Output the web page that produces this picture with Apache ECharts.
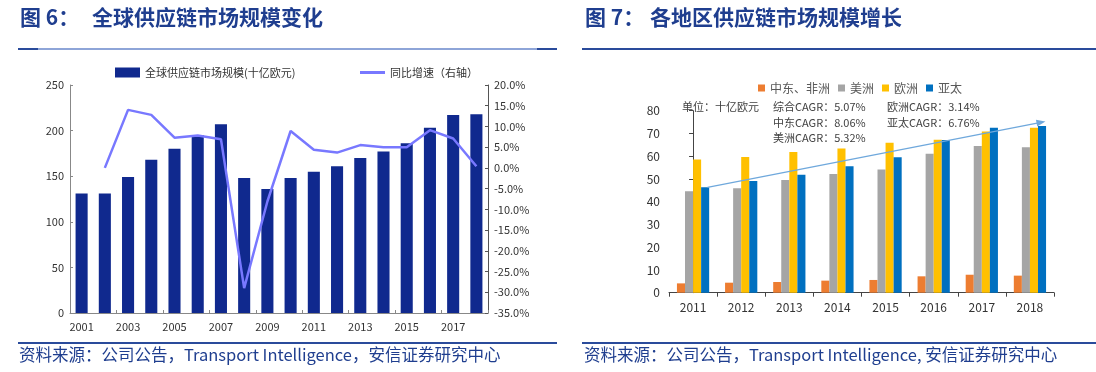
<!DOCTYPE html>
<html><head><meta charset="utf-8">
<script src="https://cdn.jsdelivr.net/npm/echarts@6/dist/echarts.min.js"></script>
<style>html,body{margin:0;padding:0;background:#fff}#c{width:1096px;height:372px}</style>
</head><body><div id="c"></div>
<script>
// ---- Figure 6 data ----
const years6 = ['2001','2002','2003','2004','2005','2006','2007','2008','2009','2010','2011','2012','2013','2014','2015','2016','2017','2018'];
const marketSize = [131,131,149,168,180,195,207,148,136,148,155,161,170,177,186,203,217,218];
const yoyGrowth = [null,0.0,14.0,12.8,7.3,7.8,6.9,-29.0,-8.1,8.9,4.4,3.7,5.5,5.0,5.0,9.1,7.1,0.4];
// ---- Figure 7 data ----
const years7 = ['2011','2012','2013','2014','2015','2016','2017','2018'];
const mea = [4.1,4.4,4.7,5.3,5.6,7.2,7.9,7.5];
const americas = [44.6,45.9,49.5,52.2,54.2,61.1,64.5,63.9];
const europe = [58.5,59.7,61.9,63.4,65.9,67.2,70.9,72.5];
const apac = [46.3,49.1,51.9,55.6,59.5,67.1,72.5,73.3];
const trendStart = [0.3,46.3];
const trendEnd = [7.23,74.9];
const cagrNotes = ['单位：十亿欧元','综合CAGR：5.07%','中东CAGR：8.06%','美洲CAGR：5.32%','欧洲CAGR：3.14%','亚太CAGR：6.76%'];

const FONT = '"Noto Sans CJK SC","Open Sans",sans-serif';
const TITLE_C = '#1F3E8F';
const chart = echarts.init(document.getElementById('c'));
const lbl = {color:'#333', fontSize:11, fontFamily:FONT};

chart.setOption({
  animation:false,
  textStyle:{fontFamily:FONT},
  legend:[
    {data:['全球供应链市场规模(十亿欧元)'], left:110, top:62, itemWidth:25, itemHeight:10, icon:'rect', textStyle:{fontSize:11,color:'#333'}},
    {data:['同比增速（右轴）'], left:355, top:62, itemWidth:25, itemHeight:3, icon:'rect', textStyle:{fontSize:11,color:'#333'}},
    {data:['中东、非洲','美洲','欧洲','亚太'], left:753, top:77, itemWidth:7, itemHeight:7, itemGap:8, icon:'rect', textStyle:{fontSize:12,color:'#595959'}}
  ],
  grid:[
    {left:70, right:608, top:85, bottom:59},
    {left:669, right:42, top:110.7, bottom:79.3}
  ],
  xAxis:[
    {type:'category', gridIndex:0, data:years6,
     axisLine:{lineStyle:{color:'#888'}}, axisTick:{show:true, inside:true, length:3, lineStyle:{color:'#888'}},
     axisLabel:Object.assign({interval:1, margin:8}, lbl)},
    {type:'category', gridIndex:1, data:years7,
     axisLine:{lineStyle:{color:'#444'}}, axisTick:{show:true, length:4, lineStyle:{color:'#444'}},
     axisLabel:{color:'#333', fontSize:12, margin:9}},
    {type:'value', gridIndex:1, min:-0.5, max:7.5, show:false}
  ],
  yAxis:[
    {type:'value', gridIndex:0, min:0, max:250, interval:50, splitLine:{show:false},
     axisLine:{show:true, lineStyle:{color:'#888'}}, axisTick:{show:true, inside:true, length:3, lineStyle:{color:'#888'}},
     axisLabel:Object.assign({margin:6}, lbl)},
    {type:'value', gridIndex:0, position:'right', min:-35, max:20, interval:5, splitLine:{show:false},
     axisLine:{show:true, lineStyle:{color:'#555'}}, axisTick:{show:true, inside:true, length:3, lineStyle:{color:'#555'}},
     axisLabel:Object.assign({margin:6, formatter:v=>v.toFixed(1)+'%'}, lbl)},
    {type:'value', gridIndex:1, min:0, max:80, interval:10, splitLine:{show:false},
     axisLine:{show:true, lineStyle:{color:'#444'}}, axisTick:{show:true, length:4, lineStyle:{color:'#444'}},
     axisLabel:{color:'#333', fontSize:12, margin:9}}
  ],
  series:[
    {name:'全球供应链市场规模(十亿欧元)', type:'bar', xAxisIndex:0, yAxisIndex:0, data:marketSize,
     barCategoryGap:'48%', itemStyle:{color:'#10298E'}},
    {name:'同比增速（右轴）', type:'line', xAxisIndex:0, yAxisIndex:1, data:yoyGrowth,
     symbol:'none', lineStyle:{color:'#7878FF', width:2.5}, itemStyle:{color:'#7878FF'}},
    {name:'中东、非洲', type:'bar', xAxisIndex:1, yAxisIndex:2, data:mea, barGap:'0%', barCategoryGap:'33%', itemStyle:{color:'#ED7D31'}},
    {name:'美洲', type:'bar', xAxisIndex:1, yAxisIndex:2, data:americas, barGap:'0%', barCategoryGap:'33%', itemStyle:{color:'#A5A5A5'}},
    {name:'欧洲', type:'bar', xAxisIndex:1, yAxisIndex:2, data:europe, barGap:'0%', barCategoryGap:'33%', itemStyle:{color:'#FFC000'}},
    {name:'亚太', type:'bar', xAxisIndex:1, yAxisIndex:2, data:apac, barGap:'0%', barCategoryGap:'33%', itemStyle:{color:'#0070C0'}},
    {name:'trend', type:'line', xAxisIndex:2, yAxisIndex:2, data:[trendStart, trendEnd], symbol:'none',
     lineStyle:{opacity:0}, silent:true,
     markLine:{silent:true, symbol:['none','triangle'], symbolSize:[7,9], label:{show:false},
       lineStyle:{color:'#6FA8DC', width:1.3, type:'solid'},
       data:[[{coord:trendStart},{coord:trendEnd}]]}}
  ],
  graphic:[
    {type:'text', left:20, top:7, style:{text:'图 6：', font:'bold 21px '+FONT, fill:TITLE_C}},
    {type:'text', left:92, top:7, style:{text:'全球供应链市场规模变化', font:'bold 21px '+FONT, fill:TITLE_C}},
    {type:'text', left:585, top:7, style:{text:'图 7：', font:'bold 21px '+FONT, fill:TITLE_C}},
    {type:'text', left:650, top:7, style:{text:'各地区供应链市场规模增长', font:'bold 21px '+FONT, fill:TITLE_C}},
    {type:'line', shape:{x1:38,y1:49,x2:537,y2:49}, style:{stroke:'#8EA5D8', lineWidth:2}},
    {type:'line', shape:{x1:18,y1:49,x2:38,y2:49}, style:{stroke:'#2A4B9B', lineWidth:2}},
    {type:'line', shape:{x1:537,y1:49,x2:557,y2:49}, style:{stroke:'#2A4B9B', lineWidth:2}},
    {type:'line', shape:{x1:582,y1:49,x2:1096,y2:49}, style:{stroke:'#2A4B9B', lineWidth:2}},
    {type:'line', shape:{x1:18,y1:343,x2:557,y2:343}, style:{stroke:'#2A4B9B', lineWidth:2}},
    {type:'line', shape:{x1:582,y1:343,x2:1096,y2:343}, style:{stroke:'#2A4B9B', lineWidth:2}},
    {type:'text', left:19, top:346, style:{text:'资料来源：公司公告，Transport Intelligence，安信证券研究中心', font:'16.5px '+FONT, fill:'#1F3E8F'}},
    {type:'text', left:584, top:346, style:{text:'资料来源：公司公告，Transport Intelligence, 安信证券研究中心', font:'16.5px '+FONT, fill:'#1F3E8F'}},
    {type:'text', left:682, top:101, style:{text:cagrNotes[0], font:'11px '+FONT, fill:'#404040'}},
    {type:'text', left:773, top:101, style:{text:cagrNotes[1], font:'11px '+FONT, fill:'#404040'}},
    {type:'text', left:773, top:117, style:{text:cagrNotes[2], font:'11px '+FONT, fill:'#404040'}},
    {type:'text', left:773, top:132, style:{text:cagrNotes[3], font:'11px '+FONT, fill:'#404040'}},
    {type:'text', left:887, top:101, style:{text:cagrNotes[4], font:'11px '+FONT, fill:'#404040'}},
    {type:'text', left:887, top:117, style:{text:cagrNotes[5], font:'11px '+FONT, fill:'#404040'}}
  ]
});
</script></body></html>
